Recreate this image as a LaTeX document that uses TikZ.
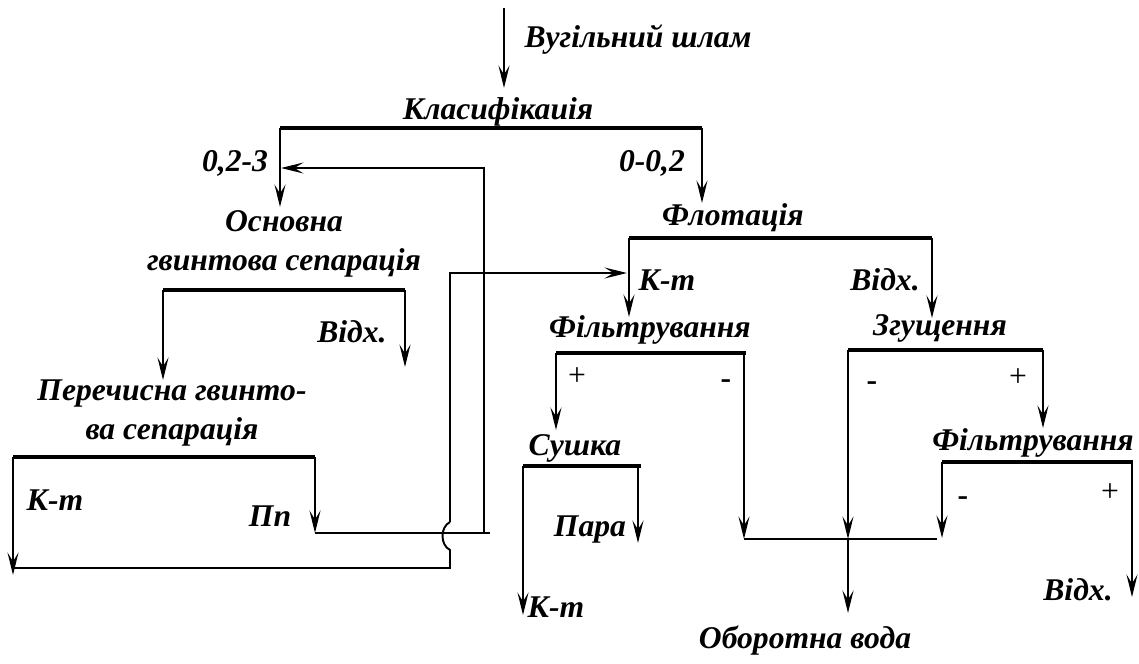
\documentclass[tikz,border=0pt]{standalone}
\usepackage{fontspec}
\setmainfont{Liberation Serif}
\usetikzlibrary{arrows.meta}

\begin{document}
\begin{tikzpicture}[x=0.02cm, y=-0.02cm,
        lbl/.style={font=\fontsize{18}{22.5}\selectfont\bfseries\itshape, inner sep=0pt, align=center},
        sgn/.style={font=\fontsize{18}{22}\selectfont, inner sep=0pt},
        bar/.style={line width=2.3pt},
        pipe/.style={line width=1.1pt},
        flow/.style={line width=1.1pt, -{Stealth[length=4.5mm, width=2.2mm, inset=1.8mm]}},
    ]
        \useasboundingbox (0,0) rectangle (1139,663);

        \node[lbl] (shlam) at (638,40) {Вугільний шлам};
        \node[lbl] (klas) at (498,112) {Класифікаиія};
        \node[lbl] (fr1) at (235,163) {0,2-3};
        \node[lbl] (fr2) at (652,163) {0-0,2};
        \node[lbl] (osn) at (284,244) {Основна\\ гвинтова сепарація};
        \node[lbl] (osnvidh) at (352,332) {Відх.};
        \node[lbl] (per) at (172,413) {Перечисна гвинто-\\ ва сепарація};
        \node[lbl] (perkt) at (55,500) {К-т};
        \node[lbl] (perpp) at (270,516) {Пп};
        \node[lbl] (flot) at (733,218) {Флотація};
        \node[lbl] (flotkt) at (667,280) {К-т};
        \node[lbl] (flotvidh) at (885,280) {Відх.};
        \node[lbl] (filt) at (650,330) {Фільтрування};
        \node[sgn] (filtp) at (577,377) {+};
        \node[sgn] (filtm) at (726,384) {\bfseries -};
        \node[lbl] (sush) at (575,448) {Сушка};
        \node[lbl] (para) at (590,530) {Пара};
        \node[lbl] (sushkt) at (556,607) {К-т};
        \node[lbl] (zgu) at (940,328) {Згущення};
        \node[sgn] (zgum) at (872,386) {\bfseries -};
        \node[sgn] (zgup) at (1018,378) {+};
        \node[lbl] (filtb) at (1033,443) {Фільтрування};
        \node[sgn] (filtbm) at (963,501) {\bfseries -};
        \node[sgn] (filtbp) at (1110,493) {+};
        \node[lbl] (filtbvidh) at (1078,590) {Відх.};
        \node[lbl] (voda) at (805,641) {Оборотна вода};

        \coordinate (feed) at (504,8);
        \coordinate (klasL) at (280,128);
        \coordinate (klasR) at (702,128);
        \coordinate (osnL) at (163,290);
        \coordinate (osnR) at (405,290);
        \coordinate (perL) at (13,457);
        \coordinate (perR) at (315,457);
        \coordinate (flotL) at (629,238);
        \coordinate (flotR) at (932,238);
        \coordinate (filtL) at (556,353);
        \coordinate (filtR) at (746,353);
        \coordinate (sushL) at (523,466);
        \coordinate (sushR) at (641,466);
        \coordinate (zguL) at (848,350);
        \coordinate (zguR) at (1043,350);
        \coordinate (filtbL) at (942,462);
        \coordinate (filtbR) at (1133,462);
        \coordinate (ppend) at (315,533);
        \coordinate (ktend) at (13,568);
        \coordinate (voden) at (848,539);

        \draw[flow] (feed) -- (504,88);
        \draw[bar] (klasL) -- (klasR);
        \draw[flow] (klasL) -- (280,207);
        \draw[flow] (klasR) -- (702,203);

        \draw[bar] (osnL) -- (osnR);
        \draw[flow] (osnL) -- (163,380);
        \draw[flow] (osnR) -- (405,367);

        \draw[bar] (perL) -- (perR);
        \draw[flow] (perL) -- (13,575);
        \draw[flow] (perR) -- (ppend);
        \draw[pipe] (ppend) -- (490,533);
        \draw[flow] (484,533) -- (484,168) -- (281,168);
        \draw[pipe] (ktend) -- (450,568) -- (450,550)
            .. controls (440,545) and (440,527) .. (450,522);
        \draw[flow] (450,522) -- (450,273) -- (627,273);

        \draw[bar] (flotL) -- (flotR);
        \draw[flow] (flotL) -- (629,317);
        \draw[flow] (flotR) -- (932,318);

        \draw[bar] (filtL) -- (filtR);
        \draw[flow] (filtL) -- (556,430);
        \draw[flow] (744,353) -- (744,539);

        \draw[bar] (sushL) -- (sushR);
        \draw[flow] (sushL) -- (523,615);
        \draw[flow] (638,466) -- (638,543);

        \draw[bar] (zguL) -- (zguR);
        \draw[flow] (zguL) -- (voden);
        \draw[flow] (voden) -- (848,613);
        \draw[flow] (zguR) -- (1043,428);

        \draw[bar] (filtbL) -- (filtbR);
        \draw[flow] (filtbL) -- (942,538);
        \draw[flow] (1132,462) -- (1132,597);

        \draw[pipe] (744,539) -- (937,539);
    \end{tikzpicture}
\end{document}
